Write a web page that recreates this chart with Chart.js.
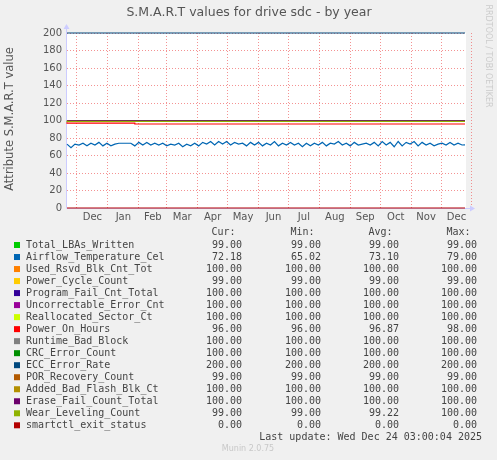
<!DOCTYPE html>
<html>
<head>
<meta charset="utf-8">
<script src="https://cdn.jsdelivr.net/npm/chart.js@4/dist/chart.umd.min.js"></script>
<style>
  html, body { margin: 0; padding: 0; background: #f0f0f0; }
  #wrap { width: 497px; height: 460px; position: relative; }
</style>
</head>
<body>
<div id="wrap"><canvas id="myChart"></canvas></div>
<script>
// x axis is in days, day 0 = left edge of the year graph (400 days)
const monthStarts = [10, 41, 72, 100, 131, 161, 192, 222, 253, 284, 314, 345, 375, 406];
const monthLabels = ['Dec', 'Jan', 'Feb', 'Mar', 'Apr', 'May', 'Jun', 'Jul', 'Aug', 'Sep', 'Oct', 'Nov', 'Dec'];
const firstDay = 0;
const lastDay = 399;

const seriesNames = ['Total_LBAs_Written', 'Airflow_Temperature_Cel', 'Used_Rsvd_Blk_Cnt_Tot', 'Power_Cycle_Count',
  'Program_Fail_Cnt_Total', 'Uncorrectable_Error_Cnt', 'Reallocated_Sector_Ct', 'Power_On_Hours',
  'Runtime_Bad_Block', 'CRC_Error_Count', 'ECC_Error_Rate', 'POR_Recovery_Count',
  'Added_Bad_Flash_Blk_Ct', 'Erase_Fail_Count_Total', 'Wear_Leveling_Count', 'smartctl_exit_status'];
const seriesColors = ['#00cc00', '#0066b3', '#ff8000', '#ffcc00', '#330099', '#990099', '#ccff00', '#ff0000',
  '#808080', '#008f00', '#00487d', '#b35a00', '#b38f00', '#6b006b', '#8fb300', '#b30000'];

// flat series (null = series given below)
const flatValues = [99, null, 100, 99, 100, 100, 100, null, 100, 100, 200, 99, 100, 100, null, 0];

// stepped series
const powerOnDays = [0, 68, 278];
const powerOnValues = [98, 97, 96];
const wearDays = [0, 88];
const wearValues = [100, 99];

// temperature, one reading every 4 days
const tempStep = 4;
const tempValues = [
  73, 69, 73, 72, 74, 71, 74, 72, 75, 71,
  74, 71, 73, 74, 74, 74, 74, 71, 75, 72,
  75, 72, 74, 72, 74, 71, 73, 72, 74, 70,
  73, 71, 74, 71, 75, 73, 76, 72, 76, 73,
  76, 72, 75, 73, 74, 71, 75, 72, 75, 71,
  74, 72, 76, 71, 74, 72, 75, 72, 74, 70,
  74, 71, 74, 72, 75, 71, 74, 73, 76, 72,
  74, 71, 75, 72, 73, 74, 72, 75, 71, 76,
  72, 75, 70, 76, 71, 75, 73, 76, 71, 75,
  72, 74, 71, 73, 74, 72, 75, 72, 74, 72
];

// legend stats
const curValues = [99, 72.18, 100, 99, 100, 100, 100, 96, 100, 100, 200, 99, 100, 100, 99, 0];
const minValues = [99, 65.02, 100, 99, 100, 100, 100, 96, 100, 100, 200, 99, 100, 100, 99, 0];
const avgValues = [99, 73.10, 100, 99, 100, 100, 100, 96.87, 100, 100, 200, 99, 100, 100, 99.22, 0];
const maxValues = [99, 79, 100, 99, 100, 100, 100, 98, 100, 100, 200, 99, 100, 100, 100, 0];

const monthMids = monthLabels.map((m, i) => (monthStarts[i] + monthStarts[i + 1]) / 2);

function stepPoints(days, values) {
  const pts = days.map((d, i) => ({ x: d, y: values[i] }));
  pts.push({ x: lastDay, y: values[values.length - 1] });
  return pts;
}

const datasets = seriesNames.map((name, i) => {
  let data, stepped = false;
  if (name === 'Airflow_Temperature_Cel') {
    data = tempValues.map((v, k) => ({ x: firstDay + k * tempStep, y: v }));
    data.push({ x: lastDay, y: 72.18 });
  } else if (name === 'Power_On_Hours') {
    data = stepPoints(powerOnDays, powerOnValues); stepped = 'after';
  } else if (name === 'Wear_Leveling_Count') {
    data = stepPoints(wearDays, wearValues); stepped = 'after';
  } else {
    data = [{ x: firstDay, y: flatValues[i] }, { x: lastDay, y: flatValues[i] }];
  }
  return {
    type: 'line',
    label: name,
    data: data,
    borderColor: seriesColors[i],
    backgroundColor: seriesColors[i],
    borderWidth: 1.2,
    pointRadius: 0,
    stepped: stepped,
    tension: 0,
    clip: 3,
    order: seriesNames.length - i
  };
});

const muninDecor = {
  id: 'muninDecor',
  beforeDraw(chart) {
    const c = chart.ctx, a = chart.chartArea;
    c.save();
    c.fillStyle = '#f0f0f0';
    c.fillRect(0, 0, chart.width, chart.height);
    c.fillStyle = '#ffffff';
    c.fillRect(a.left, a.top, a.right - a.left, a.bottom - a.top);
    c.restore();
  },
  beforeDatasetsDraw(chart) {
    const c = chart.ctx, a = chart.chartArea;
    c.save();
    c.strokeStyle = '#ccccff';
    c.fillStyle = '#ccccff';
    c.lineWidth = 1;
    c.beginPath();
    c.moveTo(a.left - 0.5, a.bottom); c.lineTo(a.left - 0.5, a.top - 4);
    c.moveTo(a.left - 0.5, a.bottom + 0.5); c.lineTo(a.right + 4, a.bottom + 0.5);
    c.stroke();
    c.beginPath();
    c.moveTo(a.left - 3.5, a.top - 4); c.lineTo(a.left + 2.5, a.top - 4); c.lineTo(a.left - 0.5, a.top - 9);
    c.closePath(); c.fill();
    c.beginPath();
    c.moveTo(a.right + 4, a.bottom - 2.5); c.lineTo(a.right + 4, a.bottom + 3.5); c.lineTo(a.right + 9, a.bottom + 0.5);
    c.closePath(); c.fill();
    c.restore();
  },
  afterDraw(chart) {
    const c = chart.ctx;
    c.save();
    // title
    c.fillStyle = '#555555';
    c.font = '12.5px "DejaVu Sans"';
    c.textAlign = 'center';
    c.textBaseline = 'middle';
    c.fillText('S.M.A.R.T values for drive sdc - by year', 249, 13);
    // y title
    c.save();
    c.translate(10, 119);
    c.rotate(-Math.PI / 2);
    c.font = '11.5px "DejaVu Sans"';
    c.fillText('Attribute S.M.A.R.T value', 0, 0);
    c.restore();
    // rrdtool credit
    c.save();
    c.translate(488, 56);
    c.rotate(Math.PI / 2);
    c.fillStyle = '#cccccc';
    c.font = '8px "DejaVu Sans"';
    c.fillText('RRDTOOL / TOBI OETIKER', 0, 0);
    c.restore();
    // legend table
    c.font = '10px "DejaVu Sans Mono"';
    c.fillStyle = '#444444';
    c.textAlign = 'right';
    const cols = [242, 321, 399, 477];
    ['Cur:', 'Min:', 'Avg:', 'Max:'].forEach((h, k) => c.fillText(h, cols[k] - 6.5, 232.5));
    seriesNames.forEach((name, i) => {
      const y = 245 + i * 12.02;
      c.fillStyle = seriesColors[i];
      c.fillRect(14, y - 3, 6, 6);
      c.fillStyle = '#444444';
      c.textAlign = 'left';
      c.fillText(name, 26, y);
      c.textAlign = 'right';
      [curValues, minValues, avgValues, maxValues].forEach((arr, k) => {
        c.fillText(arr[i].toFixed(2), cols[k], y);
      });
    });
    c.fillText('Last update: Wed Dec 24 03:00:04 2025', 482, 437);
    c.textAlign = 'center';
    c.fillStyle = '#c8c8c8';
    c.font = '8px "DejaVu Sans"';
    c.fillText('Munin 2.0.75', 248, 449);
    c.restore();
  }
};

const ctx = document.getElementById('myChart');
const myChart = new Chart(ctx, {
  data: { datasets: datasets },
  options: {
    responsive: true,
    maintainAspectRatio: false,
    animation: false,
    events: [],
    layout: { padding: { left: 0, top: 33, right: 31, bottom: 236 } },
    plugins: { legend: { display: false }, title: { display: false }, tooltip: { enabled: false } },
    scales: {
      xGrid: {
        type: 'linear', position: 'bottom', min: firstDay, max: 400,
        afterBuildTicks: axis => { axis.ticks = monthStarts.map(v => ({ value: v })); },
        afterFit: axis => { axis.height = 0; },
        ticks: { display: false },
        border: { display: false, dash: [1, 2] },
        grid: { color: 'rgba(240, 110, 110, 0.75)', lineWidth: 1, drawTicks: false }
      },
      x: {
        type: 'linear', position: 'bottom', min: firstDay, max: 400,
        afterBuildTicks: axis => { axis.ticks = monthMids.map(v => ({ value: v })); },
        afterFit: axis => { axis.height = 16; },
        ticks: {
          autoSkip: false, maxRotation: 0, padding: 3,
          color: '#555555', font: { family: 'DejaVu Sans', size: 10 },
          callback: (v, i) => monthLabels[i]
        },
        border: { display: false },
        grid: { display: false, drawTicks: false }
      },
      y: {
        type: 'linear', min: 0, max: 200,
        afterFit: axis => { axis.width = 67; },
        ticks: {
          stepSize: 10, padding: 5, color: '#555555', font: { family: 'DejaVu Sans', size: 10 },
          callback: v => (v % 20 === 0 ? v : '')
        },
        border: { display: false, dash: [1, 2] },
        grid: {
          drawTicks: false, lineWidth: 1,
          color: c => (c.tick.value % 20 === 0 ? 'rgba(240, 110, 110, 0.75)' : 'rgba(160, 160, 160, 0.75)')
        }
      }
    }
  },
  plugins: [muninDecor]
});
</script>
</body>
</html>
